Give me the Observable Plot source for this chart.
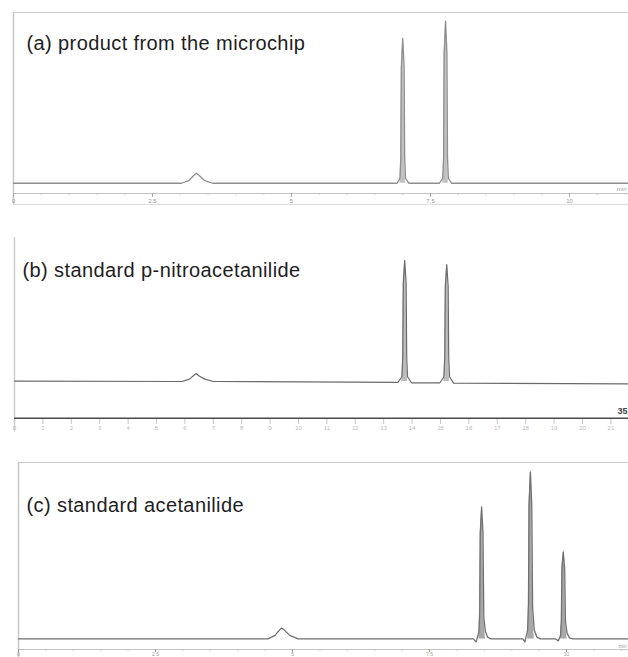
<!DOCTYPE html>
<html>
<head>
<meta charset="utf-8">
<script src="https://cdn.jsdelivr.net/npm/d3@7"></script>
<script src="https://cdn.jsdelivr.net/npm/@observablehq/plot@0.6"></script>
<style>
  html, body { margin: 0; padding: 0; background: #fff; }
  #chart { width: 628px; }
  #chart svg { display: block; }
</style>
</head>
<body>
<div id="chart"></div>
<script>
// Panel titles
const titles = [
  "(a) product from the microchip",
  "(b) standard p-nitroacetanilide",
  "(c) standard acetanilide"
];

// Traces: [time (min), signal]
const traceA = [
  [0, 0], [3.02, 0], [3.15, 1.5], [3.24, 4.5], [3.29, 5.9], [3.34, 4.5], [3.44, 1.5], [3.58, 0],
  [6.9, 0], [6.95, 3], [6.965, 15], [6.975, 68], [7.0, 84.9], [7.025, 68], [7.035, 15], [7.05, 3], [7.11, 0],
  [7.66, 0], [7.72, 3], [7.735, 15], [7.745, 76], [7.77, 94.9], [7.795, 76], [7.805, 15], [7.82, 3], [7.88, 0],
  [11.06, 0]
];
const traceB = [
  [0, 0.3], [2.95, 0], [3.08, 1.5], [3.16, 4], [3.2, 5.1], [3.25, 3.5], [3.35, 1.5], [3.5, 0],
  [6.75, -0.5], [6.82, 3], [6.835, 15], [6.845, 62], [6.87, 76.5], [6.895, 62], [6.905, 15], [6.92, 3], [6.99, -0.8],
  [7.49, -0.8], [7.56, 3], [7.575, 15], [7.585, 60], [7.61, 73.9], [7.635, 60], [7.645, 15], [7.66, 3], [7.73, -1],
  [10.81, -1.5]
];
const traceC = [
  [0, 0], [4.55, 0], [4.68, 2], [4.76, 5], [4.8, 6.2], [4.85, 5], [4.95, 2], [5.1, 0],
  [8.3, 0], [8.35, -1.7], [8.4, 4], [8.415, 15], [8.425, 60], [8.45, 74.8], [8.475, 60], [8.49, 12], [8.52, 4], [8.56, 1], [8.62, 0],
  [9.2, 0], [9.24, -1.7], [9.29, 5], [9.305, 20], [9.315, 76], [9.34, 94.7], [9.365, 76], [9.38, 18], [9.41, 5], [9.46, 1], [9.52, 0],
  [9.8, 0], [9.85, -1.1], [9.89, 2], [9.905, 10], [9.915, 40], [9.94, 49.3], [9.965, 40], [9.98, 10], [10.01, 3], [10.06, 0.5], [10.12, 0],
  [11.13, 0]
];

// Axis ticks
const majorTicks = [0, 2.5, 5, 7.5, 10];
const majorLabels = ["0", "2.5", "5", "7.5", "10"];
const minorTicks = [0.5, 1, 1.5, 2, 3, 3.5, 4, 4.5, 5.5, 6, 6.5, 7, 8, 8.5, 9, 9.5, 10.5, 11];
const ticksB = [0, 0.5, 1, 1.5, 2, 2.5, 3, 3.5, 4, 4.5, 5, 5.5, 6, 6.5, 7, 7.5, 8, 8.5, 9, 9.5, 10, 10.5];
const ticksBLabels = ["0", "1", "2", "3", "4", "5", "6", "7", "8", "9", "10", "11", "12", "13", "14", "15", "16", "17", "18", "19", "20", "21"];

const toRows = t => t.map(([time, signal]) => ({time, signal}));
const font = "'Liberation Sans', Arial, sans-serif";

function titleMark(label, dx, dy) {
  return Plot.text([label], {
    frameAnchor: "top-left", dx, dy, textAnchor: "start", lineAnchor: "middle",
    fontSize: 20, fill: "#1e1e1e", fontFamily: font
  });
}

// tall, narrow peaks get a light fill; small bumps stay as a plain line
function trace(rows, stroke, fill, width) {
  return [
    Plot.areaY(rows, {x: "time", y1: 0, y2: d => (d.signal >= 10 ? d.signal : 0), fill, curve: "linear"}),
    Plot.line(rows, {x: "time", y: "signal", stroke, strokeWidth: width})
  ];
}

// Panel (a)
const pa = Plot.plot({
  width: 628, height: 210,
  marginLeft: 13, marginRight: 0, marginTop: 12, marginBottom: 17,
  x: {domain: [0, 11.06], axis: null, label: null},
  y: {domain: [-6, 100], axis: null, label: null},
  style: {fontFamily: font, background: "#fff"},
  marks: [
    Plot.ruleY([100], {stroke: "#c8c8c8", strokeWidth: 1.2}),
    Plot.ruleY([-12.4], {stroke: "#dcdcdc"}),
    Plot.ruleX([0], {y1: -12.4, y2: 100, stroke: "#c8c8c8", strokeWidth: 1.5}),
    Plot.ruleY([-6], {stroke: "#c4c4c4"}),
    Plot.axisX({ticks: majorTicks, tickFormat: (d, i) => majorLabels[i], tickSize: 4, fontSize: 6, stroke: "#aaa", fill: "#999", tickPadding: 1, label: null}),
    Plot.axisX({ticks: minorTicks, tickFormat: null, text: null, tickSize: 2, stroke: "#ccc", label: null}),
    Plot.text(["min"], {frameAnchor: "bottom-right", dx: -2, dy: -3, fontSize: 6, fill: "#999"}),
    ...trace(toRows(traceA), "#8e8e8e", "#c2c2c2", 1.3),
    titleMark(titles[0], 13, 31)
  ]
});

// Panel (b)
const pb = Plot.plot({
  width: 628, height: 230,
  marginLeft: 14, marginRight: 0, marginTop: 27, marginBottom: 21,
  x: {domain: [0, 10.81], axis: null, label: null},
  y: {domain: [-24, 91], axis: null, label: null},
  style: {fontFamily: font, background: "#fff"},
  marks: [
    Plot.ruleX([0], {y1: -32, y2: 91, stroke: "#cfcfcf", strokeWidth: 1.5}),
    Plot.ruleY([-23.2], {stroke: "#4a4a4a", strokeWidth: 1.4}),
    Plot.axisX({ticks: ticksB, tickFormat: (d, i) => ticksBLabels[i], tickSize: 5, fontSize: 6, stroke: "#c8c8c8", fill: "#bbb", tickPadding: 1, label: null}),
    Plot.text(["35"], {frameAnchor: "bottom-right", dx: -1, dy: -6, fontSize: 9, fontWeight: "bold", fill: "#444"}),
    ...trace(toRows(traceB), "#6a6a6a", "#bcbcbc", 1.2),
    titleMark(titles[1], 8, 33)
  ]
});

// Panel (c)
const pc = Plot.plot({
  width: 628, height: 217,
  marginLeft: 18, marginRight: 0, marginTop: 22, marginBottom: 8,
  x: {domain: [0, 11.13], axis: null, label: null},
  y: {domain: [-6, 100], axis: null, label: null},
  style: {fontFamily: font, background: "#fff"},
  marks: [
    Plot.ruleY([100], {stroke: "#c8c8c8", strokeWidth: 1.2}),
    Plot.ruleX([0], {y1: -10.5, y2: 100, stroke: "#c8c8c8", strokeWidth: 1.5}),
    Plot.ruleY([-6], {stroke: "#c4c4c4"}),
    Plot.axisX({ticks: majorTicks, tickFormat: (d, i) => majorLabels[i], tickSize: 3, fontSize: 5, stroke: "#999", fill: "#999", tickPadding: 0, label: null}),
    Plot.axisX({ticks: minorTicks, tickFormat: null, text: null, tickSize: 2, stroke: "#ccc", label: null}),
    Plot.text(["min"], {frameAnchor: "bottom-right", dx: -2, dy: -2, fontSize: 5, fill: "#999"}),
    ...trace(toRows(traceC), "#707070", "#a8a8a8", 1.3),
    titleMark(titles[2], 8, 43)
  ]
});

const chart = document.getElementById("chart");
for (const p of [pa, pb, pc]) {
  p.querySelectorAll("text").forEach(t => {
    if (titles.includes(t.textContent)) t.setAttribute("letter-spacing", "0.4");
  });
  chart.appendChild(p);
}
</script>
</body>
</html>
